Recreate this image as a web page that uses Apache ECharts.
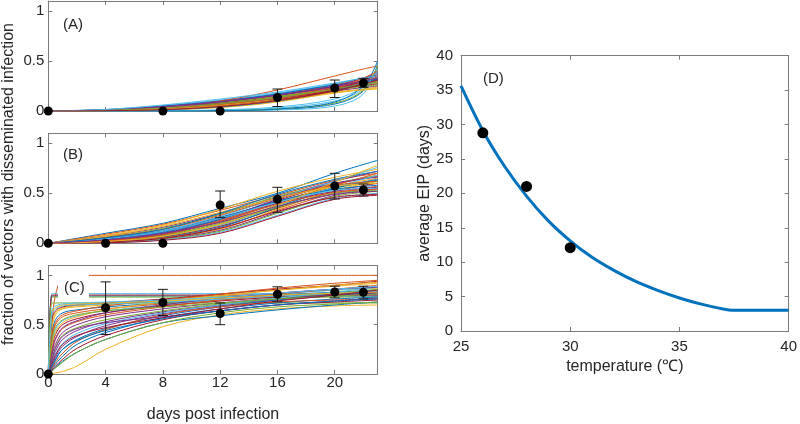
<!DOCTYPE html>
<html>
<head>
<meta charset="utf-8">
<script src="https://cdn.jsdelivr.net/npm/echarts@6/dist/echarts.min.js"></script>
<style>
  html, body { margin: 0; padding: 0; background: #fff; }
  #chart { width: 800px; height: 424px; }
</style>
</head>
<body>
<div id="chart"></div>
<script>
// ---- data ----
var dayTicks = [0, 4, 8, 12, 16, 20];
var fracTicks = [0, 0.5, 1];

// model runs, panel (A): y at these days
var daysA = [0, 4, 8, 12, 16, 20, 22, 23];
var runsA = [
  [0, .012, .045, .1, .17, .27, .33, .36],
  [0, .006, .03, .075, .15, .25, .30, .33],
  [0, .003, .018, .055, .12, .22, .28, .31],
  [0, .01, .04, .09, .16, .25, .30, .32],
  [0, .002, .012, .04, .1, .2, .27, .3],
  [0, .015, .055, .11, .18, .27, .32, .34],
  [0, .004, .022, .06, .13, .23, .29, .32],
  [0, 0, .001, .004, .015, .07, .2, .45],
  [0, .008, .035, .085, .16, .26, .32, .35],
  [0, .002, .01, .035, .09, .19, .26, .29],
  [0, .011, .042, .092, .155, .235, .27, .29],
  [0, .005, .025, .065, .13, .22, .26, .28],
  [0, 0, 0, .002, .01, .05, .17, .48],
  [0, .009, .036, .08, .14, .22, .255, .27],
  [0, .013, .05, .1, .17, .26, .295, .31],
  [0, .006, .028, .07, .14, .24, .305, .34],
  [0, .003, .015, .045, .1, .18, .22, .24],
  [0, .007, .03, .07, .125, .2, .235, .25],
  [0, .01, .04, .085, .145, .215, .245, .26],
  [0, 0, .002, .008, .03, .1, .22, .42],
  [0, .004, .02, .055, .115, .21, .275, .31],
  [0, .002, .013, .042, .1, .2, .28, .32],
  [0, .005, .03, .1, .21, .35, .42, .45],
  [0, .005, .022, .058, .115, .19, .215, .23],
  [0, .009, .038, .09, .16, .25, .33, .38],
  [0, 0, .001, .005, .02, .08, .21, .46],
  [0, .001, .004, .012, .04, .12, .24, .4],
  [0, .003, .016, .05, .11, .21, .31, .36],
  [0, 0, 0, .003, .02, .09, .25, .5],
  [0, .006, .026, .066, .13, .225, .33, .40],
  [0, .004, .018, .05, .105, .185, .21, .22],
  [0, .011, .045, .095, .16, .245, .3, .33],
  [0, .007, .03, .072, .135, .22, .27, .29],
  [0, .016, .06, .12, .19, .28, .33, .35],
  [0, .003, .014, .045, .105, .2, .27, .31]
];

// model runs, panel (B)
var daysB = [0, 4, 8, 12, 16, 20, 23];
var runsB = [
  [0, .1, .2, .35, .5, .7, .83],
  [0, .09, .19, .33, .48, .63, .7],
  [0, .08, .18, .34, .52, .66, .74],
  [0, .07, .16, .3, .46, .62, .72],
  [0, .06, .15, .29, .47, .6, .68],
  [0, .05, .13, .27, .45, .62, .76],
  [0, .04, .12, .25, .43, .59, .67],
  [0, .05, .12, .26, .42, .56, .63],
  [0, .035, .1, .23, .41, .58, .7],
  [0, .03, .09, .21, .4, .57, .65],
  [0, .03, .1, .24, .44, .6, .66],
  [0, .025, .08, .2, .38, .55, .62],
  [0, .02, .07, .18, .37, .56, .68],
  [0, .02, .065, .17, .35, .52, .6],
  [0, .015, .06, .16, .36, .55, .64],
  [0, .015, .055, .15, .33, .5, .57],
  [0, .01, .05, .14, .34, .53, .62],
  [0, .01, .045, .13, .31, .48, .55],
  [0, .008, .04, .12, .3, .47, .52],
  [0, .006, .035, .11, .28, .45, .5],
  [0, .005, .03, .1, .27, .44, .48],
  [0, .04, .11, .24, .42, .54, .58],
  [0, .06, .14, .28, .45, .58, .62],
  [0, .07, .17, .31, .45, .57, .6],
  [0, .03, .09, .22, .4, .52, .56],
  [0, .02, .075, .19, .36, .5, .53],
  [0, .045, .12, .25, .41, .53, .55],
  [0, .012, .05, .15, .32, .46, .49],
  [0, .055, .14, .3, .49, .64, .72],
  [0, .025, .085, .22, .39, .51, .54],
  [0, .018, .07, .19, .38, .61, .78],
  [0, .035, .1, .21, .37, .49, .52]
];

// model runs, panel (C)
var daysC = [0, 0.25, 0.5, 1, 2, 4, 8, 12, 16, 20, 23];
var runsC = [
  [0, .79, .79, .79, .79, .79, .79, .79, .79, .79, .79],
  [0, .5, .8, .97, 1, 1, 1, 1, 1, 1, 1],
  [0, .45, .6, .66, .68, .7, .74, .78, .82, .85, .87],
  [0, .08, .17, .28, .38, .49, .61, .69, .75, .79, .81],
  [0, .78, .78, .78, .78, .78, .78, .78, .78, .78, .78],
  [0, .815, .815, .815, .815, .815, .815, .815, .815, .815, .815],
  [0, .8, .8, .8, .8, .8, .8, .8, .8, .8, .8],
  [0, .4, .55, .62, .65, .68, .72, .76, .8, .83, .85],
  [0, .35, .5, .58, .62, .66, .71, .75, .79, .82, .84],
  [0, .005, .01, .025, .08, .25, .48, .6, .66, .69, .7],
  [0, .12, .23, .35, .44, .53, .63, .7, .76, .8, .83],
  [0, .72, .72, .72, .72, .72, .72, .72, .72, .72, .72],
  [0, .3, .45, .54, .59, .64, .7, .76, .81, .85, .88],
  [0, .25, .4, .5, .56, .62, .69, .74, .78, .81, .83],
  [0, .03, .07, .13, .22, .35, .52, .59, .65, .7, .73],
  [0, .2, .35, .46, .53, .6, .68, .75, .81, .86, .9],
  [0, .5, .62, .67, .69, .71, .75, .8, .85, .89, .92],
  [0, .18, .3, .42, .5, .58, .66, .72, .77, .8, .82],
  [0, .15, .27, .39, .47, .55, .64, .71, .77, .82, .86],
  [0, .1, .2, .31, .41, .51, .62, .7, .77, .83, .88],
  [0, .55, .64, .68, .7, .72, .76, .81, .86, .9, .94],
  [0, .06, .14, .25, .35, .46, .59, .68, .75, .8, .84],
  [0, .38, .52, .6, .64, .69, .75, .81, .87, .92, .95],
  [0, .28, .42, .52, .58, .65, .73, .79, .85, .9, .93],
  [0, .22, .36, .47, .54, .62, .7, .77, .82, .86, .88],
  [0, .03, .06, .12, .22, .35, .52, .62, .68, .71, .73],
  [0, .6, .66, .69, .7, .71, .73, .76, .79, .82, .84],
  [0, .04, .08, .15, .26, .39, .55, .64, .7, .73, .75],
  [0, .05, .1, .18, .3, .42, .57, .66, .72, .76, .78],
  [0, .06, .12, .21, .33, .45, .6, .68, .73, .75, .76],
  [0, .62, .67, .7, .71, .72, .74, .77, .8, .82, .83],
  [0, .14, .26, .38, .46, .52, .58, .64, .7, .74, .77],
  [0, .33, .47, .55, .6, .64, .68, .72, .76, .79, .81],
  [0, .65, .69, .71, .72, .73, .75, .78, .82, .86, .89],
  [0, .1, .19, .3, .39, .47, .57, .66, .74, .8, .85],
  [0, .08, .15, .25, .34, .44, .56, .64, .7, .74, .76]
];

// observations with error bars
var obsDaysA = [0, 8, 12, 16, 20, 22];
var obsA = [0, 0, 0, 0.135, 0.23, 0.28];
var obsLoA = [0, 0, 0, 0.045, 0.135, 0.237];
var obsHiA = [0, 0, 0, 0.22, 0.31, 0.327];

var obsDaysB = [0, 4, 8, 12, 16, 20, 22];
var obsB = [0, 0, 0, 0.383, 0.44, 0.573, 0.533];
var obsLoB = [0, 0, 0, 0.257, 0.31, 0.443, 0.473];
var obsHiB = [0, 0, 0, 0.523, 0.56, 0.70, 0.593];

var obsDaysC = [0, 4, 8, 12, 16, 20, 22];
var obsC = [0, 0.672, 0.725, 0.613, 0.808, 0.831, 0.828];
var obsLoC = [0, 0.40, 0.593, 0.50, 0.732, 0.772, 0.762];
var obsHiC = [0, 0.934, 0.858, 0.72, 0.884, 0.89, 0.89];

// panel (D)
var tempTicks = [25, 30, 35, 40];
var eipTicks = [0, 5, 10, 15, 20, 25, 30, 35, 40];
var tempCurve = [25, 26, 27, 28, 29, 30, 31, 32, 33, 34, 35, 36, 37, 37.4, 40];
var eipCurve = [35.6, 29.1, 23.9, 19.6, 16.0, 13.1, 10.7, 8.8, 7.2, 5.9, 4.8, 3.9, 3.2, 3.0, 3.0];
var tempObs = [26, 28, 30];
var eipObs = [28.8, 21.0, 12.1];

// ---- drawing ----
var FONT = '"Liberation Sans", Arial, sans-serif';
var palette = ['#0072BD', '#D95319', '#EDB120', '#7E2F8E', '#77AC30', '#4DBEEE', '#A2142F'];
var frame = '#7a7a7a';
var ink = '#262626';

var chart = echarts.init(document.getElementById('chart'), null, { renderer: 'canvas' });

var grids = [
  { left: 48.3, top: 1, width: 329.4, height: 110 },
  { left: 48.3, top: 133.3, width: 329.4, height: 110 },
  { left: 48.3, top: 265.5, width: 329.4, height: 110.2 },
  { left: 461, top: 55.7, width: 330, height: 275.3 }
];

var xAxes = [], yAxes = [];

function addBox(g, xr, yr, o) {
  var base = {
    gridIndex: g, type: 'value',
    axisLine: { onZero: false, lineStyle: { color: frame, width: 1 } },
    splitLine: { show: false }
  };
  function tick(vals) {
    return { inside: true, length: 4, customValues: vals, lineStyle: { color: frame } };
  }
  xAxes.push(Object.assign({}, base, {
    position: 'bottom', min: xr[0], max: xr[1], interval: xr[2],
    axisTick: tick(xr[3]),
    axisLabel: { show: o.xLabels, customValues: xr[3], color: ink, fontFamily: FONT, fontSize: o.fs, margin: o.xm },
    name: o.xName, nameLocation: 'middle', nameGap: o.xGap,
    nameTextStyle: { color: ink, fontFamily: FONT, fontSize: 16 }
  }));
  xAxes.push(Object.assign({}, base, {
    position: 'top', min: xr[0], max: xr[1], interval: xr[2],
    axisTick: tick(xr[3]), axisLabel: { show: false }
  }));
  yAxes.push(Object.assign({}, base, {
    position: 'left', min: yr[0], max: yr[1], interval: yr[2],
    axisTick: tick(yr[3]),
    axisLabel: { customValues: yr[3], color: ink, fontFamily: FONT, fontSize: o.fs, margin: o.ym },
    name: o.yName, nameLocation: 'middle', nameGap: o.yGap,
    nameTextStyle: { color: ink, fontFamily: FONT, fontSize: 16 }
  }));
  yAxes.push(Object.assign({}, base, {
    position: 'right', min: yr[0], max: yr[1], interval: yr[2],
    axisTick: tick(yr[3]), axisLabel: { show: false }
  }));
}

addBox(0, [0, 23, 4, dayTicks], [0, 1.1, 0.5, fracTicks], { xLabels: false, fs: 15, ym: 4 });
addBox(1, [0, 23, 4, dayTicks], [0, 1.1, 0.5, fracTicks], { xLabels: false, fs: 15, ym: 4 });
addBox(2, [0, 23, 4, dayTicks], [0, 1.1, 0.5, fracTicks], {
  xLabels: true, fs: 15, ym: 4, xm: 1, xName: 'days post infection', xGap: 33
});
addBox(3, [25, 40, 5, tempTicks], [0, 40, 5, eipTicks], {
  xLabels: true, fs: 15, ym: 8, xm: 8,
  xName: 'temperature (\u2103)', xGap: 28, yName: 'average EIP (days)', yGap: 27
});

var series = [];

function addRuns(g, days, runs) {
  runs.forEach(function (run, i) {
    series.push({
      type: 'line', xAxisIndex: 2 * g, yAxisIndex: 2 * g,
      data: run.map(function (v, k) { return [days[k], v]; }),
      showSymbol: false, smooth: 0.35, silent: true,
      lineStyle: { width: 1, color: palette[i % palette.length] },
      z: 2
    });
  });
}
addRuns(0, daysA, runsA);
addRuns(1, daysB, runsB);
addRuns(2, daysC, runsC);

function errorBar(params, api) {
  var x = api.value(0);
  var lo = api.coord([x, api.value(1)]);
  var hi = api.coord([x, api.value(2)]);
  if (Math.abs(lo[1] - hi[1]) < 0.5) return null;
  var w = 5;
  var st = { stroke: '#1a1a1a', lineWidth: 1 };
  return {
    type: 'group',
    children: [
      { type: 'line', shape: { x1: lo[0], y1: lo[1], x2: hi[0], y2: hi[1] }, style: st },
      { type: 'line', shape: { x1: lo[0] - w, y1: lo[1], x2: lo[0] + w, y2: lo[1] }, style: st },
      { type: 'line', shape: { x1: hi[0] - w, y1: hi[1], x2: hi[0] + w, y2: hi[1] }, style: st }
    ]
  };
}

function addObs(g, days, mid, lo, hi) {
  series.push({
    type: 'custom', xAxisIndex: 2 * g, yAxisIndex: 2 * g, silent: true, z: 5,
    renderItem: errorBar,
    data: days.map(function (d, k) { return [d, lo[k], hi[k]]; })
  });
  series.push({
    type: 'scatter', xAxisIndex: 2 * g, yAxisIndex: 2 * g, silent: true, z: 6,
    symbolSize: 9, itemStyle: { color: '#000', opacity: 1 },
    data: days.map(function (d, k) { return [d, mid[k]]; })
  });
}
addObs(0, obsDaysA, obsA, obsLoA, obsHiA);
addObs(1, obsDaysB, obsB, obsLoB, obsHiB);
addObs(2, obsDaysC, obsC, obsLoC, obsHiC);

series.push({
  type: 'line', xAxisIndex: 6, yAxisIndex: 6, silent: true, z: 3,
  data: tempCurve.map(function (t, k) { return [t, eipCurve[k]]; }),
  showSymbol: false, smooth: 0.3,
  lineStyle: { width: 3, color: '#0072BD' }
});
series.push({
  type: 'scatter', xAxisIndex: 6, yAxisIndex: 6, silent: true, z: 4,
  symbolSize: 11, itemStyle: { color: '#000', opacity: 1 },
  data: tempObs.map(function (t, k) { return [t, eipObs[k]]; })
});

function label(txt, x, y) {
  return {
    type: 'text', x: x, y: y, z: 100,
    style: { text: txt, font: '15px ' + FONT, fill: ink, textAlign: 'left', textVerticalAlign: 'middle' }
  };
}

var option = {
  animation: false,
  backgroundColor: '#fff',
  grid: grids,
  xAxis: xAxes,
  yAxis: yAxes,
  series: series,
  graphic: [
    {
      type: 'text', x: 8.5, y: 184, rotation: Math.PI / 2, z: 100,
      style: {
        text: 'fraction of vectors with disseminated infection',
        font: '16px ' + FONT, fill: ink, textAlign: 'center', textVerticalAlign: 'middle'
      }
    },
    label('(A)', 63, 25),
    label('(B)', 63, 155),
    { type: 'rect', z: 99, shape: { x: 58, y: 270, width: 31, height: 30 }, style: { fill: '#fff' } },
    label('(C)', 64, 288),
    label('(D)', 483, 79)
  ]
};

chart.setOption(option);
</script>
</body>
</html>
